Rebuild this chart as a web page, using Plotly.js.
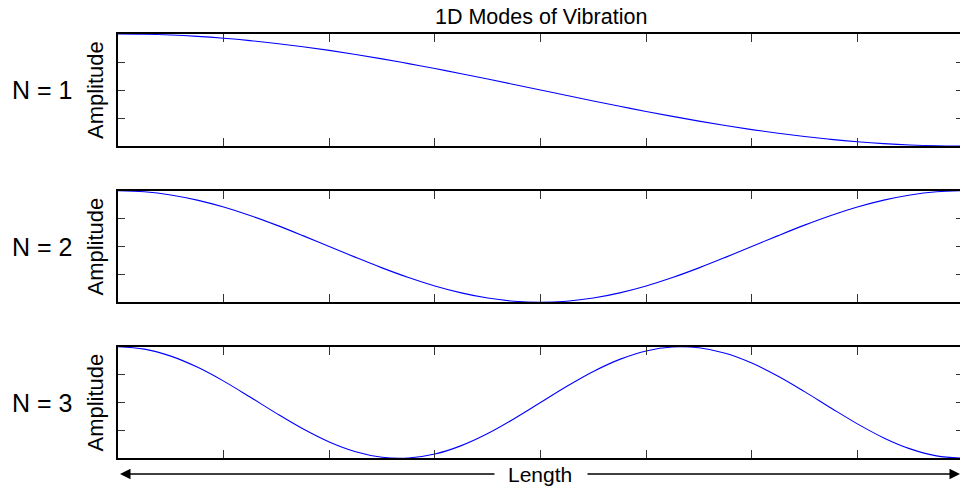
<!DOCTYPE html>
<html>
<head>
<meta charset="utf-8">
<script src="https://cdn.plot.ly/plotly-3.0.1.min.js"></script>
<style>html,body{margin:0;padding:0;overflow:hidden;background:#fff;}</style>
</head>
<body>
<div id="chart"></div>
<script>
// Position along the length (0..8)
const lengthPos = [0,0.25,0.5,0.75,1,1.25,1.5,1.75,2,2.25,2.5,2.75,3,3.25,3.5,3.75,4,4.25,4.5,4.75,5,5.25,5.5,5.75,6,6.25,6.5,6.75,7,7.25,7.5,7.75,8];
// Amplitude of each mode
const mode1 = [1.000,0.995,0.981,0.957,0.924,0.882,0.831,0.773,0.707,0.634,0.556,0.471,0.383,0.290,0.195,0.098,0.000,-0.098,-0.195,-0.290,-0.383,-0.471,-0.556,-0.634,-0.707,-0.773,-0.831,-0.882,-0.924,-0.957,-0.981,-0.995,-1.000];
const mode2 = [1.000,0.981,0.924,0.831,0.707,0.556,0.383,0.195,0.000,-0.195,-0.383,-0.556,-0.707,-0.831,-0.924,-0.981,-1.000,-0.981,-0.924,-0.831,-0.707,-0.556,-0.383,-0.195,0.000,0.195,0.383,0.556,0.707,0.831,0.924,0.981,1.000];
const mode3 = [1.000,0.957,0.831,0.634,0.383,0.098,-0.195,-0.471,-0.707,-0.882,-0.981,-0.995,-0.924,-0.773,-0.556,-0.290,0.000,0.290,0.556,0.773,0.924,0.995,0.981,0.882,0.707,0.471,0.195,-0.098,-0.383,-0.634,-0.831,-0.957,-1.000];
const modeLabels = ['N = 1','N = 2','N = 3'];
const xTicks = [1,2,3,4,5,6,7];
const yTicks = [-0.5,0,0.5];
const titleText = '1D Modes of Vibration';
const yTitle = 'Amplitude';
const xTitle = 'Length';

const modes = [mode1, mode2, mode3];
const FONT = 'Liberation Sans, Arial, sans-serif';
const W = 963, H = 489, L = 118;
const px = p => (p - L) / (W - L);
const py = p => (H - p) / H;
const panels = [[34,146],[190.7,302.3],[346.7,458.3]];

const traces = modes.map((m,i)=>({
  x: lengthPos, y: m, type:'scatter', mode:'lines',
  line:{color:'#0000ff', width:1.1, shape:'spline', smoothing:1},
  xaxis: i===0?'x':'x'+(i+1), yaxis: i===0?'y':'y'+(i+1),
  hoverinfo:'skip', showlegend:false
}));

const layout = {
  width: W, height: H,
  margin:{l:L, r:0, t:0, b:0},
  paper_bgcolor:'#fff', plot_bgcolor:'#fff',
  showlegend:false,
  font:{family:FONT, color:'#000'},
  annotations:[], shapes:[]
};
panels.forEach((p,i)=>{
  const s = i===0?'':String(i+1);
  layout['xaxis'+s] = {
    domain:[0,1], range:[0,8], anchor: 'y'+s,
    showline:true, mirror:'ticks', linecolor:'#000', linewidth:2,
    ticks:'inside', ticklen:8, tickwidth:1, tickcolor:'#333',
    tickmode:'array', tickvals:xTicks, showticklabels:false,
    showgrid:false, zeroline:false, fixedrange:true
  };
  layout['yaxis'+s] = {
    domain:[py(p[1]), py(p[0])], range:[-1,1], anchor: 'x'+s,
    showline:true, mirror:'ticks', linecolor:'#000', linewidth:2,
    ticks:'inside', ticklen:7, tickwidth:1, tickcolor:'#333',
    tickmode:'array', tickvals:yTicks, showticklabels:false,
    showgrid:false, zeroline:false, fixedrange:true
  };
  const mid = (p[0]+p[1])/2;
  layout.annotations.push({
    text: modeLabels[i], xref:'paper', yref:'paper', x:px(42), y:py(mid),
    showarrow:false, font:{size:25, family:FONT, color:'#000'}, xanchor:'center', yanchor:'middle'
  });
  layout.annotations.push({
    text: yTitle, xref:'paper', yref:'paper', x:px(95), y:py(mid),
    showarrow:false, textangle:-90, font:{size:22, family:FONT, color:'#000'}, xanchor:'center', yanchor:'middle'
  });
});
layout.annotations.push({
  text: titleText, xref:'paper', yref:'paper', x:px(541), y:py(17),
  showarrow:false, font:{size:21.5, family:FONT, color:'#000'}, xanchor:'center', yanchor:'middle'
});
// Length arrow (two halves with a gap for the label)
const arrowY = py(474);
layout.annotations.push({
  text:'', xref:'paper', yref:'paper', x:px(120), y:arrowY,
  ax:376, ay:0, showarrow:true, arrowhead:2, arrowsize:1.4, arrowwidth:1.5, arrowcolor:'#000'
});
layout.annotations.push({
  text:'', xref:'paper', yref:'paper', x:px(960), y:arrowY,
  ax:-374, ay:0, showarrow:true, arrowhead:2, arrowsize:1.4, arrowwidth:1.5, arrowcolor:'#000'
});
layout.annotations.push({
  text: xTitle, xref:'paper', yref:'paper', x:px(540), y:arrowY,
  showarrow:false, font:{size:21, family:FONT, color:'#000'},
  xanchor:'center', yanchor:'middle'
});

Plotly.newPlot('chart', traces, layout, {staticPlot:true, displayModeBar:false});
</script>
</body>
</html>
